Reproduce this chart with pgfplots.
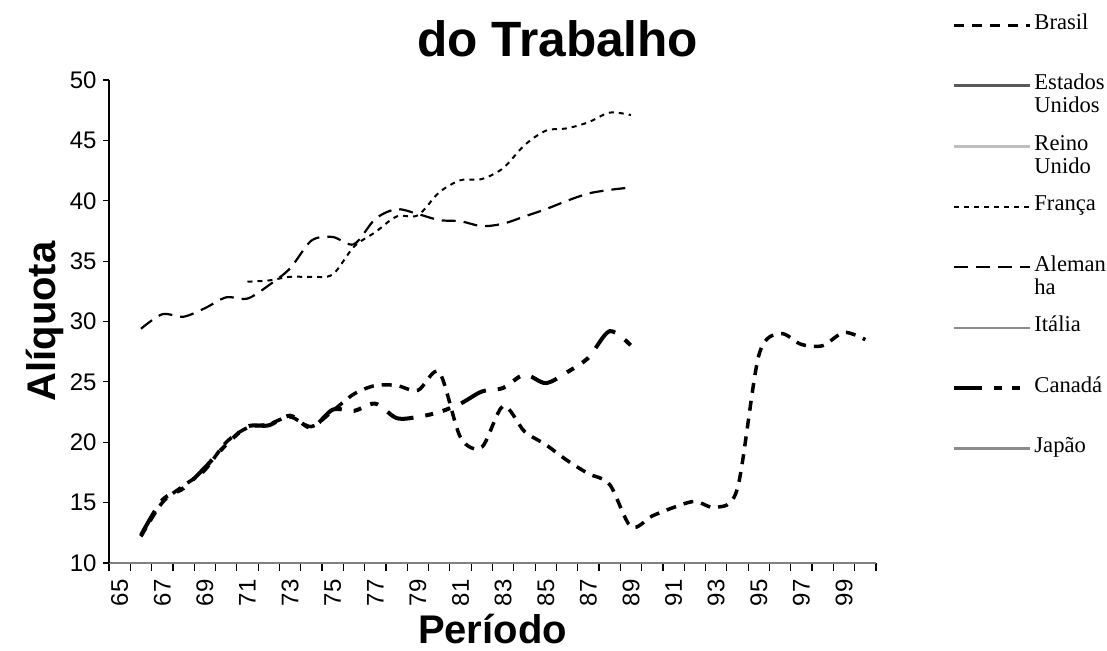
\documentclass[border=0pt]{standalone}
\usepackage{fontspec}
\setmainfont{Liberation Sans}
\newfontfamily\legfont{Liberation Serif}
\usepackage{pgfplots}
\pgfplotsset{compat=1.18}

\pgfplotstableread{
x y
66 12.2
67 15.0
68 16.4
69 17.7
70 20.0
71 21.2
72 21.5
73 22.1
74 21.3
75 22.6
76 24.0
77 24.7
78 24.7
79 24.3
80 25.8
81 20.4
82 19.6
83 23.0
84 20.9
85 19.8
86 18.5
87 17.4
88 16.5
89 13.0
90 13.9
91 14.6
92 15.1
93 14.6
94 16.2
95 27.2
96 29.0
97 28.1
98 28.0
99 29.1
100 28.5
}\brasil

\pgfplotstableread{
x y
71 33.3
72 33.4
73 33.7
74 33.7
75 33.9
76 36.2
77 37.4
78 38.7
79 38.8
80 40.7
81 41.7
82 41.8
83 42.7
84 44.6
85 45.8
86 46.0
87 46.5
88 47.3
89 47.1
}\franca

\pgfplotstableread{
x y
66 29.4
67 30.6
68 30.4
69 31.1
70 32.0
71 31.9
72 33.0
73 34.4
74 36.7
75 37.0
76 36.4
77 38.5
78 39.3
79 38.9
80 38.4
81 38.3
82 37.9
83 38.1
84 38.7
85 39.3
86 40.0
87 40.6
88 40.9
89 41.1
}\alemanha

\pgfplotstableread{
x y
66 12.3
67 15.2
68 16.2
69 17.9
70 19.8
71 21.3
72 21.4
73 22.2
74 21.2
75 22.7
76 22.6
77 23.2
78 22.0
79 22.1
80 22.5
81 23.2
82 24.2
83 24.5
84 25.6
85 24.9
86 25.8
87 27.0
88 29.2
89 28.0
}\canada

\begin{document}
\begin{tikzpicture}
\useasboundingbox (-54.5pt,-43.5pt) rectangle (499pt,281.5pt);
\begin{axis}[
  scale only axis, width=383.5pt, height=241.5pt,
  at={(0,0)}, anchor=south west,
  xmin=64.5, xmax=100.5, ymin=10, ymax=50,
  axis lines*=left,
  x axis line style={draw=black!50, line width=1pt},
  y axis line style={draw=black, line width=0.6pt},
  ytick={10,15,...,50},
  xtick={65,67,...,99},
  minor xtick={64.5,65.5,...,100.5},
  tick align=outside,
  major tick length=3pt,
  minor tick length=4pt,
  every major x tick/.append style={draw=none},
  every minor x tick/.append style={draw=black, line width=0.6pt},
  every major y tick/.append style={draw=black, line width=0.6pt},
  /pgf/number format/assume math mode=true,
  tick label style={font=\fontsize{12}{14}\selectfont},
  xticklabel style={yshift=-5pt, rotate=90, anchor=east, inner sep=0pt},
  yticklabel style={inner sep=0pt, xshift=-3pt},
  ylabel={Alíquota},
  ylabel style={font=\bfseries\fontsize{20}{24}\selectfont, at={(axis description cs:-0.084,0.5)}, anchor=center},
  xlabel={Período},
  xlabel style={font=\bfseries\fontsize{20}{24}\selectfont, at={(axis description cs:0.5,-0.166)}, anchor=base},
  title={do Trabalho},
  title style={font=\bfseries\fontsize{24.8}{28}\selectfont, at={(axis description cs:0.585,1.023)}, anchor=base},
  legend image code/.code={\draw[#1] (0pt,4.5pt) -- (38pt,4.5pt);},
  legend cell align=left,
  legend style={at={(axis description cs:1.0991,1.139)}, anchor=north west,
    draw=none, fill=none, inner sep=0pt, row sep=9.2pt, column sep=1pt,
    nodes={inner sep=0pt, font=\legfont\fontsize{11.3}{11.5}\selectfont},
    cells={align=left}},
]
\addplot[black, line width=1.75pt, dash pattern=on 5pt off 4pt, smooth] table[x=x,y=y]{\brasil};
\addlegendentry{\strut Brasil\\\strut}
\addlegendimage{black!65, line width=1.6pt}
\addlegendentry{\strut Estados\\\strut Unidos}
\addlegendimage{black!25, line width=1.6pt}
\addlegendentry{\strut Reino\\\strut Unido}
\addplot[black, line width=1pt, dash pattern=on 2.5pt off 2.5pt, smooth] table[x=x,y=y]{\franca};
\addlegendentry{\strut França\\\strut}
\addplot[black, line width=1.1pt, dash pattern=on 7pt off 4pt, smooth] table[x=x,y=y]{\alemanha};
\addlegendentry{\strut Aleman\\\strut ha}
\addlegendimage{black!45, line width=1pt}
\addlegendentry{\strut Itália\\\strut}
\addplot[black, line width=2pt, dash pattern=on 14pt off 6pt on 4pt off 5pt on 4pt off 6pt, smooth] table[x=x,y=y]{\canada};
\addlegendentry{\strut Canadá\\\strut}
\addlegendimage{black!45, line width=1.6pt}
\addlegendentry{\strut Japão\\\strut}
\end{axis}
\end{tikzpicture}
\end{document}
